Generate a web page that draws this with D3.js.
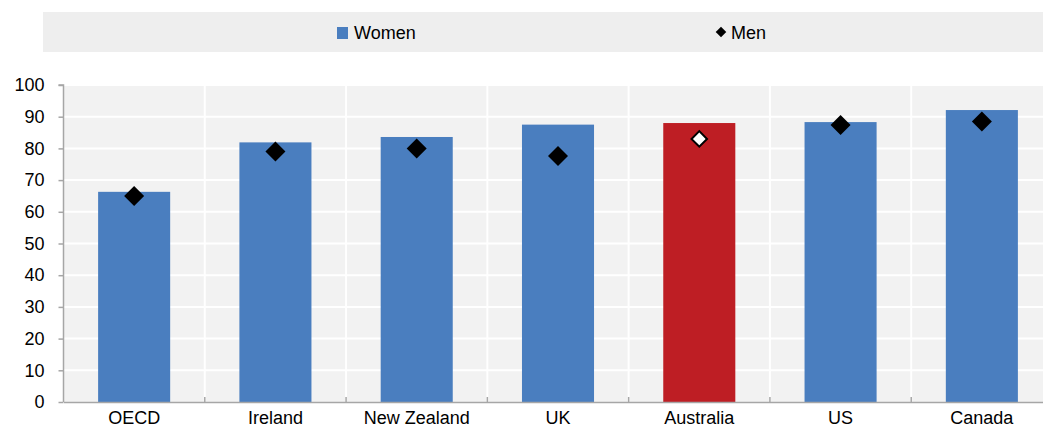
<!DOCTYPE html>
<html>
<head>
<meta charset="utf-8">
<script src="https://cdn.jsdelivr.net/npm/d3@7"></script>
<style>
  body { margin: 0; background: #fff; }
  svg { display: block; font-family: "Liberation Sans", Arial, sans-serif; }
</style>
</head>
<body>
<svg id="chart" width="1043" height="428"></svg>
<script>
// data
const countries = ["OECD", "Ireland", "New Zealand", "UK", "Australia", "US", "Canada"];
const women = [66.3, 81.9, 83.6, 87.5, 88.0, 88.3, 92.1];
const men = [65.0, 79.0, 80.0, 77.6, 83.0, 87.4, 88.5];
const yTicks = [0, 10, 20, 30, 40, 50, 60, 70, 80, 90, 100];
const highlight = "Australia";

const svg = d3.select("#chart");
const margin = { left: 63.5, right: -9.5, top: 85, bottom: 26 };
const W = 1043, H = 428;

const x = d3.scaleBand()
    .domain(countries)
    .range([margin.left, W - margin.right])
    .paddingInner(0)
    .paddingOuter(0);

const y = d3.scaleLinear()
    .domain([0, 100])
    .range([H - margin.bottom, margin.top]);

const blue = "#4a7ebf", red = "#be1e24", axisGrey = "#a6a6a6";

// legend strip
const legend = svg.append("g");
legend.append("rect")
    .attr("x", 43).attr("y", 12)
    .attr("width", W - 43).attr("height", 40)
    .attr("fill", "#eeeeee");
legend.append("rect")
    .attr("x", 337).attr("y", 27).attr("width", 11).attr("height", 12)
    .attr("fill", blue);
legend.append("text")
    .attr("x", 354).attr("y", 38.5)
    .attr("font-size", 18).attr("fill", "#000")
    .text("Women");
legend.append("path")
    .attr("d", d3.symbol(d3.symbolSquare, 56)())
    .attr("transform", "translate(721,32) rotate(45)")
    .attr("fill", "#000");
legend.append("text")
    .attr("x", 731).attr("y", 38.5)
    .attr("font-size", 18).attr("fill", "#000")
    .text("Men");

// plot background
svg.append("rect")
    .attr("x", margin.left).attr("y", margin.top)
    .attr("width", W - margin.left).attr("height", y(0) - margin.top)
    .attr("fill", "#f2f2f2");

// gridlines
svg.append("g").selectAll("line.h")
    .data(yTicks.filter(d => d > 0))
    .join("line")
    .attr("x1", margin.left).attr("x2", W)
    .attr("y1", d => y(d)).attr("y2", d => y(d))
    .attr("stroke", "#fff").attr("stroke-width", 2);

svg.append("g").selectAll("line.v")
    .data(countries.slice(1))
    .join("line")
    .attr("x1", d => x(d)).attr("x2", d => x(d))
    .attr("y1", margin.top).attr("y2", y(0))
    .attr("stroke", "#fff").attr("stroke-width", 2);

// bars
const barW = x.bandwidth() * 0.51;
svg.append("g").selectAll("rect")
    .data(countries)
    .join("rect")
    .attr("x", d => x(d) + (x.bandwidth() - barW) / 2)
    .attr("width", barW)
    .attr("y", (d, i) => y(women[i]))
    .attr("height", (d, i) => y(0) - y(women[i]))
    .attr("fill", d => d === highlight ? red : blue);

// men markers
svg.append("g").selectAll("path")
    .data(countries)
    .join("path")
    .attr("d", d => d === highlight ? d3.symbol(d3.symbolSquare, 120)() : d3.symbol(d3.symbolSquare, 200)())
    .attr("transform", (d, i) => `translate(${x(d) + x.bandwidth() / 2},${y(men[i])}) rotate(45)`)
    .attr("fill", d => d === highlight ? "#fff" : "#000")
    .attr("stroke", d => d === highlight ? "#000" : "none")
    .attr("stroke-width", 2);

// y axis
const yAxis = svg.append("g")
    .attr("transform", `translate(${margin.left},0)`)
    .call(d3.axisLeft(y).tickValues(yTicks).tickSize(5).tickPadding(14));
yAxis.select(".domain").attr("stroke", axisGrey).attr("stroke-width", 1.5)
    .attr("d", `M-5,${y(100)}H0V${y(0)}`);
yAxis.selectAll(".tick line").attr("stroke", axisGrey).attr("stroke-width", 1.5);
yAxis.selectAll(".tick text")
    .attr("font-size", 18).attr("fill", "#000")
    .attr("font-family", "Liberation Sans, Arial, sans-serif");

// x axis
const xAxis = svg.append("g")
    .attr("transform", `translate(0,${y(0)})`)
    .call(d3.axisBottom(x).tickSize(0).tickPadding(9));
xAxis.select(".domain").attr("stroke", axisGrey).attr("stroke-width", 1.5);
xAxis.selectAll(".tick text")
    .attr("font-size", 18).attr("fill", "#000")
    .attr("font-family", "Liberation Sans, Arial, sans-serif");
svg.append("g").selectAll("line")
    .data(countries.slice(1))
    .join("line")
    .attr("x1", d => x(d)).attr("x2", d => x(d))
    .attr("y1", y(0)).attr("y2", y(0) - 5)
    .attr("stroke", axisGrey).attr("stroke-width", 1.5);
</script>
</body>
</html>
